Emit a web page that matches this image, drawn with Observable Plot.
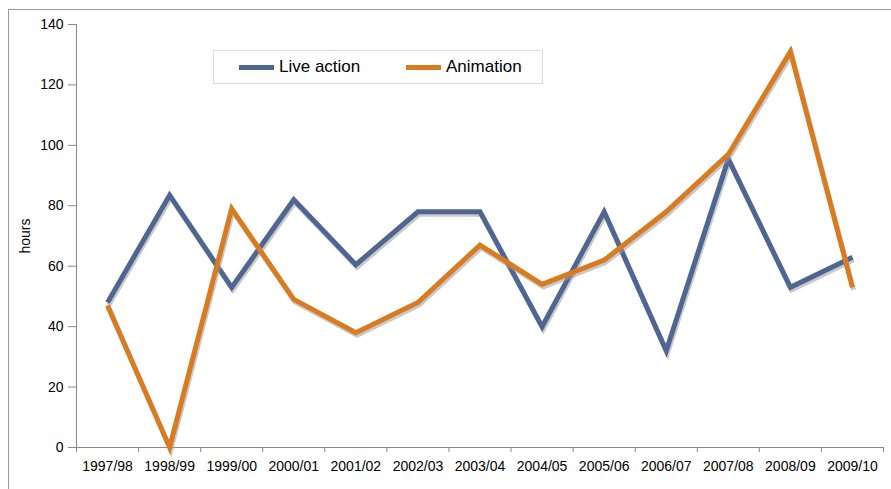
<!DOCTYPE html>
<html>
<head>
<meta charset="utf-8">
<script src="https://cdn.jsdelivr.net/npm/d3@7"></script>
<script src="https://cdn.jsdelivr.net/npm/@observablehq/plot@0.6"></script>
<style>
  html, body { margin: 0; padding: 0; background: #fff; }
  #wrap { position: relative; width: 891px; height: 489px; overflow: hidden; font-family: "Liberation Sans", Arial, sans-serif; }
  #frame { position: absolute; left: 8px; top: 9px; width: 900px; height: 500px; border-top: 1.5px solid #9a9a9a; border-left: 1.5px solid #9a9a9a; box-sizing: border-box; }
  #chart { position: absolute; left: 0; top: 0; }
  #legend { position: absolute; left: 213px; top: 50px; width: 330px; height: 34px; border: 1px solid #dcdcdc; box-sizing: border-box; background: #fff; }
  .item { position: absolute; top: 0; height: 32px; display: flex; align-items: center; font-size: 17px; color: #000; white-space: nowrap; }
  .sw { width: 35px; height: 5px; margin-right: 5px; }
</style>
</head>
<body>
<div id="wrap">
  <div id="frame"></div>
  <div id="chart"></div>
  <div id="legend"></div>
</div>
<script>
const categories = ["1997/98","1998/99","1999/00","2000/01","2001/02","2002/03","2003/04","2004/05","2005/06","2006/07","2007/08","2008/09","2009/10"];
const liveAction = [48, 83.5, 53, 82, 60.5, 78, 78, 40, 78, 32, 95.5, 53, 63];
const animation  = [47, 0, 79, 49, 38, 48, 67, 54, 62, 78, 97, 131, 53];
const yTicks = [0, 20, 40, 60, 80, 100, 120, 140];
const seriesNames = ["Live action", "Animation"];
const seriesColors = ["#4f6592", "#d97b21"];
const legendLeft = [25, 192];

const rows = categories.map((c, i) => ({ x: i + 0.5, live: liveAction[i], anim: animation[i] }));
const boundaries = d3.range(0, categories.length + 1);
const centers = categories.map((c, i) => i + 0.5);

const lineOpts = { strokeWidth: 5, strokeLinejoin: "miter", strokeMiterlimit: 10, strokeLinecap: "butt" };
const shadow = { stroke: "#9c9c9c", strokeOpacity: 0.55, dx: 1.2, dy: 2.5, ...lineOpts };

const chart = Plot.plot({
  width: 891,
  height: 489,
  marginLeft: 76,
  marginRight: 8,
  marginTop: 24,
  marginBottom: 42,
  style: { fontFamily: "'Liberation Sans', Arial, sans-serif", fontSize: "14px", color: "#000", background: "transparent", overflow: "visible" },
  x: { domain: [0, categories.length], axis: null },
  y: { domain: [0, 140], axis: null },
  marks: [
    Plot.axisY({ ticks: yTicks, tickSize: 8, tickPadding: 5, stroke: "#8a8a8a", tickFormat: d => String(d),
                 label: "hours", labelAnchor: "center", labelOffset: 56, labelArrow: "none" }),
    Plot.axisX({ ticks: boundaries, tickSize: 5, stroke: "#8a8a8a", tickFormat: () => "", label: null }),
    Plot.axisX({ ticks: centers, tickSize: 0, tickPadding: 14, tickFormat: d => categories[Math.round(d - 0.5)], label: null }),
    Plot.ruleY([0], { stroke: "#8a8a8a" }),
    Plot.ruleX([0], { stroke: "#8a8a8a" }),
    Plot.line(rows, { x: "x", y: "live", ...shadow }),
    Plot.line(rows, { x: "x", y: "live", stroke: seriesColors[0], ...lineOpts }),
    Plot.line(rows, { x: "x", y: "anim", ...shadow }),
    Plot.line(rows, { x: "x", y: "anim", stroke: seriesColors[1], ...lineOpts })
  ]
});
document.getElementById("chart").appendChild(chart);

const legend = document.getElementById("legend");
seriesNames.forEach((name, i) => {
  const item = document.createElement("div");
  item.className = "item";
  item.style.left = legendLeft[i] + "px";
  const sw = document.createElement("div");
  sw.className = "sw";
  sw.style.background = seriesColors[i];
  const label = document.createElement("span");
  label.textContent = name;
  item.appendChild(sw);
  item.appendChild(label);
  legend.appendChild(item);
});
</script>
</body>
</html>
